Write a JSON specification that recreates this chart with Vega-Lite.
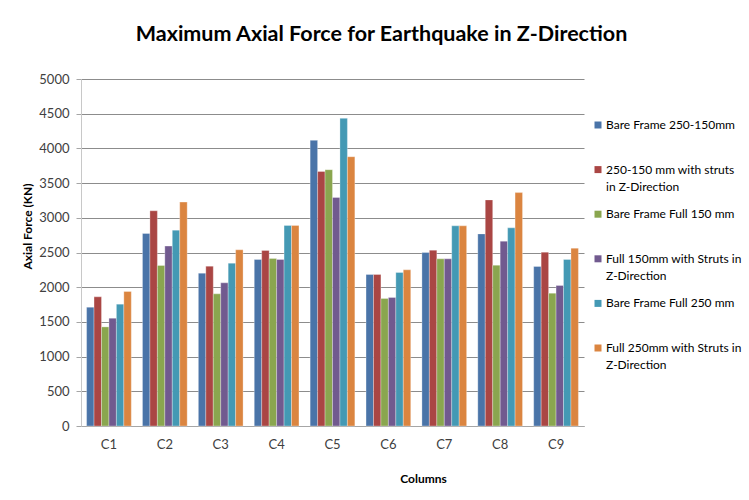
{
  "$schema": "https://vega.github.io/schema/vega-lite/v6.json",
  "autosize": "none",
  "width": 503,
  "height": 347,
  "padding": {"left": 81, "top": 79, "right": 165, "bottom": 74},
  "background": "white",
  "title": {
    "text": "Maximum Axial Force for Earthquake in Z-Direction",
    "anchor": "middle",
    "frame": "group",
    "dx": 49,
    "offset": 11,
    "baseline": "alphabetic",
    "font": "Lato",
    "fontSize": 21.5,
    "fontWeight": "bold",
    "color": "#000000"
  },
  "data": {
    "values": [
      {"column": "C1", "series": "Bare Frame 250-150mm", "force": 1712},
      {"column": "C1", "series": "250-150 mm with struts in Z-Direction", "force": 1861},
      {"column": "C1", "series": "Bare Frame Full 150 mm", "force": 1428},
      {"column": "C1", "series": "Full 150mm with Struts in Z-Direction", "force": 1553},
      {"column": "C1", "series": "Bare Frame Full 250 mm", "force": 1755},
      {"column": "C1", "series": "Full 250mm with Struts in Z-Direction", "force": 1938},
      {"column": "C2", "series": "Bare Frame 250-150mm", "force": 2774},
      {"column": "C2", "series": "250-150 mm with struts in Z-Direction", "force": 3101},
      {"column": "C2", "series": "Bare Frame Full 150 mm", "force": 2313},
      {"column": "C2", "series": "Full 150mm with Struts in Z-Direction", "force": 2592},
      {"column": "C2", "series": "Bare Frame Full 250 mm", "force": 2822},
      {"column": "C2", "series": "Full 250mm with Struts in Z-Direction", "force": 3226},
      {"column": "C3", "series": "Bare Frame 250-150mm", "force": 2202},
      {"column": "C3", "series": "250-150 mm with struts in Z-Direction", "force": 2303},
      {"column": "C3", "series": "Bare Frame Full 150 mm", "force": 1904},
      {"column": "C3", "series": "Full 150mm with Struts in Z-Direction", "force": 2063},
      {"column": "C3", "series": "Bare Frame Full 250 mm", "force": 2346},
      {"column": "C3", "series": "Full 250mm with Struts in Z-Direction", "force": 2539},
      {"column": "C4", "series": "Bare Frame 250-150mm", "force": 2399},
      {"column": "C4", "series": "250-150 mm with struts in Z-Direction", "force": 2529},
      {"column": "C4", "series": "Bare Frame Full 150 mm", "force": 2414},
      {"column": "C4", "series": "Full 150mm with Struts in Z-Direction", "force": 2399},
      {"column": "C4", "series": "Bare Frame Full 250 mm", "force": 2890},
      {"column": "C4", "series": "Full 250mm with Struts in Z-Direction", "force": 2890},
      {"column": "C5", "series": "Bare Frame 250-150mm", "force": 4116},
      {"column": "C5", "series": "250-150 mm with struts in Z-Direction", "force": 3668},
      {"column": "C5", "series": "Bare Frame Full 150 mm", "force": 3693},
      {"column": "C5", "series": "Full 150mm with Struts in Z-Direction", "force": 3293},
      {"column": "C5", "series": "Bare Frame Full 250 mm", "force": 4433},
      {"column": "C5", "series": "Full 250mm with Struts in Z-Direction", "force": 3880},
      {"column": "C6", "series": "Bare Frame 250-150mm", "force": 2183},
      {"column": "C6", "series": "250-150 mm with struts in Z-Direction", "force": 2183},
      {"column": "C6", "series": "Bare Frame Full 150 mm", "force": 1838},
      {"column": "C6", "series": "Full 150mm with Struts in Z-Direction", "force": 1852},
      {"column": "C6", "series": "Bare Frame Full 250 mm", "force": 2212},
      {"column": "C6", "series": "Full 250mm with Struts in Z-Direction", "force": 2250},
      {"column": "C7", "series": "Bare Frame 250-150mm", "force": 2500},
      {"column": "C7", "series": "250-150 mm with struts in Z-Direction", "force": 2533},
      {"column": "C7", "series": "Bare Frame Full 150 mm", "force": 2409},
      {"column": "C7", "series": "Full 150mm with Struts in Z-Direction", "force": 2409},
      {"column": "C7", "series": "Bare Frame Full 250 mm", "force": 2884},
      {"column": "C7", "series": "Full 250mm with Struts in Z-Direction", "force": 2884},
      {"column": "C8", "series": "Bare Frame 250-150mm", "force": 2768},
      {"column": "C8", "series": "250-150 mm with struts in Z-Direction", "force": 3258},
      {"column": "C8", "series": "Bare Frame Full 150 mm", "force": 2317},
      {"column": "C8", "series": "Full 150mm with Struts in Z-Direction", "force": 2663},
      {"column": "C8", "series": "Bare Frame Full 250 mm", "force": 2855},
      {"column": "C8", "series": "Full 250mm with Struts in Z-Direction", "force": 3363},
      {"column": "C9", "series": "Bare Frame 250-150mm", "force": 2298},
      {"column": "C9", "series": "250-150 mm with struts in Z-Direction", "force": 2505},
      {"column": "C9", "series": "Bare Frame Full 150 mm", "force": 1914},
      {"column": "C9", "series": "Full 150mm with Struts in Z-Direction", "force": 2025},
      {"column": "C9", "series": "Bare Frame Full 250 mm", "force": 2399},
      {"column": "C9", "series": "Full 250mm with Struts in Z-Direction", "force": 2562}
    ]
  },
  "mark": {"type": "bar", "stroke": "#ffffff", "strokeWidth": 0.5, "strokeOpacity": 0.6},
  "encoding": {
    "x": {
      "field": "column",
      "type": "nominal",
      "scale": {"paddingInner": 0.2, "paddingOuter": 0.1},
      "axis": {
        "title": "Columns",
        "titleFont": "Lato",
        "titleFontSize": 12,
        "titleFontWeight": "bold",
        "titleColor": "#000000",
        "titleX": 342,
        "titlePadding": 22,
        "labelAngle": 0,
        "labelFont": "Lato",
        "labelFontSize": 13,
        "labelColor": "#404040",
        "labelPadding": 12,
        "ticks": false,
        "domainColor": "#a6a6a6",
        "grid": false
      }
    },
    "xOffset": {
      "field": "series",
      "type": "nominal",
      "sort": [
        "Bare Frame 250-150mm",
        "250-150 mm with struts in Z-Direction",
        "Bare Frame Full 150 mm",
        "Full 150mm with Struts in Z-Direction",
        "Bare Frame Full 250 mm",
        "Full 250mm with Struts in Z-Direction"
      ],
      "scale": {"paddingInner": 0, "paddingOuter": 0}
    },
    "y": {
      "field": "force",
      "type": "quantitative",
      "scale": {"domain": [0, 5000]},
      "axis": {
        "title": "Axial Force (KN)",
        "titleFont": "Lato",
        "titleFontSize": 12,
        "titleFontWeight": "bold",
        "titleColor": "#000000",
        "titleY": 147,
        "titlePadding": 4,
        "values": [0, 500, 1000, 1500, 2000, 2500, 3000, 3500, 4000, 4500, 5000],
        "format": "d",
        "labelFont": "Lato",
        "labelFontSize": 13,
        "labelColor": "#404040",
        "labelPadding": 7,
        "tickSize": 5,
        "tickColor": "#a6a6a6",
        "domainColor": "#c8c8c8",
        "gridColor": "#8c8c8c",
        "gridWidth": 1
      }
    },
    "color": {
      "field": "series",
      "type": "nominal",
      "scale": {
        "domain": [
          "Bare Frame 250-150mm",
          "250-150 mm with struts in Z-Direction",
          "Bare Frame Full 150 mm",
          "Full 150mm with Struts in Z-Direction",
          "Bare Frame Full 250 mm",
          "Full 250mm with Struts in Z-Direction"
        ],
        "range": ["#4a74a8", "#aa4644", "#8aa64f", "#715a8f", "#4499b4", "#db8540"]
      },
      "legend": {
        "title": null,
        "orient": "none",
        "legendX": 511,
        "legendY": 40,
        "padding": 0,
        "symbolType": "square",
        "symbolSize": 49,
        "symbolStrokeWidth": 0,
        "labelFont": "Lato",
        "labelFontSize": 12,
        "labelColor": "#000000",
        "labelOffset": 2,
        "labelLimit": 200,
        "labelBaseline": "middle",
        "rowPadding": 15.6,
        "labelExpr": "datum.label == '250-150 mm with struts in Z-Direction' ? ['250-150 mm with struts', 'in Z-Direction'] : datum.label == 'Full 150mm with Struts in Z-Direction' ? ['Full 150mm with Struts in', 'Z-Direction'] : datum.label == 'Full 250mm with Struts in Z-Direction' ? ['Full 250mm with Struts in', 'Z-Direction'] : [datum.label, '']"
      }
    }
  },
  "config": {
    "view": {"stroke": null},
    "style": {"guide-label": {"lineHeight": 17}}
  }
}
